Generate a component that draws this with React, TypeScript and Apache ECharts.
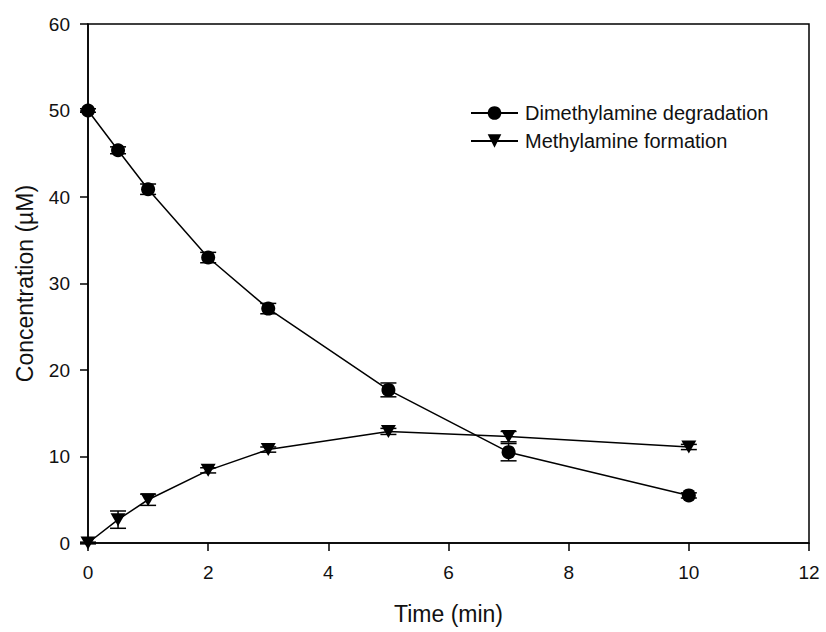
import React, { useEffect, useRef } from "react";
import * as echarts from "echarts";

const times = [0, 0.5, 1, 2, 3, 5, 7, 10];
const dmaValues = [50.0, 45.4, 40.9, 33.0, 27.1, 17.7, 10.5, 5.5];
const dmaErrors = [0.2, 0.4, 0.6, 0.6, 0.6, 0.8, 1.0, 0.3];
const mmaValues = [0.0, 2.7, 5.0, 8.4, 10.8, 12.9, 12.3, 11.1];
const mmaErrors = [0.1, 1.0, 0.65, 0.3, 0.3, 0.35, 0.6, 0.3];
const seriesNames = ["Dimethylamine degradation", "Methylamine formation"];
const xTicks = { min: 0, max: 12, interval: 2 };
const yTicks = { min: 0, max: 60, interval: 10 };

const FONT = "Liberation Sans, Arial, sans-serif";

function errorSeries(values: number[], errors: number[]) {
  const data = times.map((t, i) => [t, values[i] - errors[i], values[i] + errors[i]]);
  return {
    type: "custom",
    silent: true,
    z: 1,
    renderItem: (params: any, api: any) => {
      const x = api.value(0);
      const lo = api.coord([x, api.value(1)]);
      const hi = api.coord([x, api.value(2)]);
      const w = 8;
      const style = { stroke: "#000", lineWidth: 1.5 };
      return {
        type: "group",
        children: [
          { type: "line", shape: { x1: lo[0], y1: lo[1], x2: hi[0], y2: hi[1] }, style },
          { type: "line", shape: { x1: lo[0] - w, y1: lo[1], x2: lo[0] + w, y2: lo[1] }, style },
          { type: "line", shape: { x1: hi[0] - w, y1: hi[1], x2: hi[0] + w, y2: hi[1] }, style },
        ],
      };
    },
    data,
  };
}

export default function App() {
  const ref = useRef<HTMLDivElement>(null);
  useEffect(() => {
    if (!ref.current) return;
    const chart = echarts.init(ref.current, null, { renderer: "svg" });
    chart.setOption({
      animation: false,
      backgroundColor: "#fff",
      grid: {
        left: 88,
        top: 24,
        right: 17,
        bottom: 89,
        show: true,
        borderColor: "#000",
        borderWidth: 1.5,
        backgroundColor: "transparent",
      },
      legend: {
        data: seriesNames,
        orient: "vertical",
        left: 465,
        top: 98,
        itemWidth: 47,
        itemHeight: 17,
        itemGap: 8,
        textStyle: { fontFamily: FONT, fontSize: 20, color: "#111", padding: [0, 0, 0, 2] },
      },
      xAxis: {
        type: "value",
        min: xTicks.min,
        max: xTicks.max,
        interval: xTicks.interval,
        name: "Time (min)",
        nameLocation: "middle",
        nameGap: 59,
        nameTextStyle: { fontFamily: FONT, fontSize: 23, color: "#111" },
        axisLine: { show: true, lineStyle: { color: "#000", width: 1.5 } },
        axisTick: { show: true, length: 8, lineStyle: { color: "#000", width: 1.5 } },
        axisLabel: { fontFamily: FONT, fontSize: 19, color: "#111", margin: 20 },
        splitLine: { show: false },
      },
      yAxis: {
        type: "value",
        min: yTicks.min,
        max: yTicks.max,
        interval: yTicks.interval,
        name: "Concentration (µM)",
        nameLocation: "middle",
        nameGap: 52,
        nameTextStyle: { fontFamily: FONT, fontSize: 23, color: "#111" },
        axisLine: { show: true, lineStyle: { color: "#000", width: 1.5 } },
        axisTick: { show: true, length: 8, lineStyle: { color: "#000", width: 1.5 } },
        axisLabel: { fontFamily: FONT, fontSize: 19, color: "#111", margin: 18 },
        splitLine: { show: false },
      },
      series: [
        errorSeries(dmaValues, dmaErrors),
        errorSeries(mmaValues, mmaErrors),
        {
          name: seriesNames[0],
          type: "line",
          data: times.map((t, i) => [t, dmaValues[i]]),
          symbol: "circle",
          symbolSize: 14,
          showAllSymbol: true,
          clip: false,
          z: 3,
          lineStyle: { color: "#000", width: 1.5 },
          itemStyle: { color: "#000" },
        },
        {
          name: seriesNames[1],
          type: "line",
          data: times.map((t, i) => [t, mmaValues[i]]),
          symbol: "triangle",
          symbolRotate: 180,
          symbolSize: [15, 13],
          showAllSymbol: true,
          clip: false,
          z: 3,
          lineStyle: { color: "#000", width: 1.5 },
          itemStyle: { color: "#000" },
        },
      ],
    });
    return () => chart.dispose();
  }, []);
  return <div ref={ref} style={{ width: 826, height: 632, position: "absolute", left: 0, top: 0 }} />;
}
